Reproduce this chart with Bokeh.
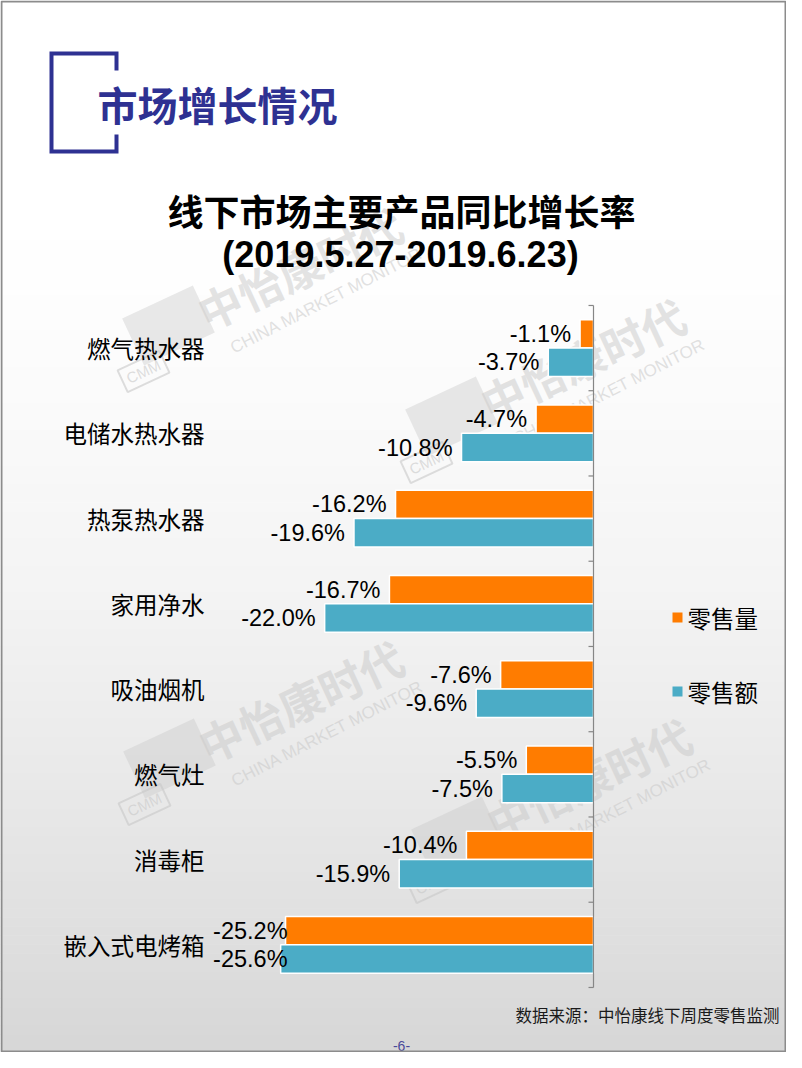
import numpy as np
from bokeh.plotting import figure
from bokeh.models import ColumnDataSource, Range1d
from bokeh.transform import dodge
from bokeh.core.properties import value
from bokeh.embed import file_html
from bokeh.resources import INLINE

# ---------------- data ----------------
categories = ["燃气热水器", "电储水热水器", "热泵热水器", "家用净水",
              "吸油烟机", "燃气灶", "消毒柜", "嵌入式电烤箱"]
retail_volume = [-1.1, -4.7, -16.2, -16.7, -7.6, -5.5, -10.4, -25.2]   # 零售量
retail_value = [-3.7, -10.8, -19.6, -22.0, -9.6, -7.5, -15.9, -25.6]   # 零售额
series_names = ["零售量", "零售额"]
series_colors = ["#FF7C00", "#4BACC6"]

page_title = "市场增长情况"
chart_title = "线下市场主要产品同比增长率"
chart_subtitle = "(2019.5.27-2019.6.23)"
source_note = "数据来源：中怡康线下周度零售监测"
page_number = "-6-"
watermark_cn = "中怡康时代"
watermark_en = "CHINA MARKET MONITOR"
watermark_logo = "CMM"

# ---------------- layout constants (page pixels) ----------------
W, H = 786, 1052
X0, Y0 = 0, 0
ZERO_X = 593.0                # x pixel of the value axis
PX_PER_UNIT = 12.22           # pixels per percentage point
TOP_CAT = 347.6               # y pixel of first category centre
CAT_STEP = 85.25              # pixels per category
BAR_H = 0.334                 # bar thickness in category units
CJK = "Noto Sans CJK SC"
LATIN = "Liberation Sans"
NAVY = "#2E3192"

x_start = (X0 - ZERO_X) / PX_PER_UNIT
x_end = (X0 + W - ZERO_X) / PX_PER_UNIT
y_bottom = (Y0 + H - TOP_CAT) / CAT_STEP
y_top = (Y0 - TOP_CAT) / CAT_STEP

p = figure(width=W, height=H, output_backend="svg", toolbar_location=None,
           x_range=Range1d(x_start, x_end), y_range=Range1d(y_bottom, y_top),
           x_axis_type=None, y_axis_type=None, min_border=0)
p.extra_x_ranges = {"page": Range1d(X0, X0 + W)}
p.extra_y_ranges = {"page": Range1d(Y0 + H, Y0)}
p.background_fill_color = "white"
p.border_fill_color = "white"
p.outline_line_color = None

PG = dict(x_range_name="page", y_range_name="page")

# ---------------- background gradient ----------------
edges = np.linspace(240, Y0 + H, 91)
stop_y = [0, 280, 450, 600, 800, 950, 1068]
stop_g = [255, 254, 249, 243, 232, 222, 213]
mids = (edges[:-1] + edges[1:]) / 2
grays = np.interp(mids, stop_y, stop_g).round().astype(int)
cols = ["#%02x%02x%02x" % (g, g, g) for g in grays]
p.quad(left=X0, right=X0 + W, top=edges[:-1], bottom=edges[1:] + 0.6,
       fill_color=cols, line_color=None, **PG)

# ---------------- watermarks ----------------
wm_cx = np.array([299, 582, 300, 588])
wm_cy = np.array([267, 358, 700, 778])
p.rect(x=wm_cx - 131, y=wm_cy + 58, width=78, height=52, angle=25, angle_units="deg",
       fill_color="#C8C8C8", fill_alpha=0.4, line_color=None, **PG)
p.rect(x=wm_cx - 156, y=wm_cy + 104, width=46, height=24, angle=25, angle_units="deg",
       fill_color=None, line_color="#C8C8C8", line_alpha=0.6, line_width=2, **PG)
p.text(x=wm_cx - 156, y=wm_cy + 104, text=[watermark_logo] * 4, angle=25,
       angle_units="deg", text_font=value(LATIN), text_font_size="15px",
       text_color="#C8C8C8", text_alpha=0.6, text_align="center",
       text_baseline="middle", **PG)
p.text(x=wm_cx, y=wm_cy, text=[watermark_cn] * 4, angle=25, angle_units="deg",
       text_font=value(CJK), text_font_style="bold", text_font_size="44px",
       text_color="#C8C8C8", text_alpha=0.5, text_align="center",
       text_baseline="middle", **PG)
p.text(x=wm_cx + 27, y=wm_cy + 33, text=[watermark_en] * 4, angle=27,
       angle_units="deg", text_font=value(LATIN), text_font_size="17px",
       text_color="#C8C8C8", text_alpha=0.55, text_align="center",
       text_baseline="middle", **PG)

# ---------------- header ----------------
p.line(x=[116, 116, 51, 51, 116, 116], y=[70, 53, 53, 151, 151, 134],
       line_color=NAVY, line_width=4, line_join="miter", **PG)
p.text(x=[97], y=[103], text=[page_title], text_font=value(CJK),
       text_font_style="bold", text_font_size="40px", text_color=NAVY,
       text_align="left", text_baseline="middle", **PG)
p.text(x=[401], y=[209], text=[chart_title], text_font=value(CJK),
       text_font_style="bold", text_font_size="36px", text_color="black",
       text_align="center", text_baseline="middle", **PG)
p.text(x=[400], y=[254], text=[chart_subtitle], text_font=value(LATIN),
       text_font_style="bold", text_font_size="36px", text_color="black",
       text_align="center", text_baseline="middle", **PG)

# ---------------- bars ----------------
n = len(categories)
LABEL_MIN = -24.3
src = ColumnDataSource(dict(
    idx=list(range(n)), cat=categories,
    vol=retail_volume, val=retail_value,
    vol_lx=[max(v, LABEL_MIN) for v in retail_volume],
    val_lx=[max(v, LABEL_MIN) for v in retail_value],
    vol_txt=["%.1f%%" % v for v in retail_volume],
    val_txt=["%.1f%%" % v for v in retail_value],
))

for col, lx, txt, off, color in [("vol", "vol_lx", "vol_txt", -BAR_H / 2, series_colors[0]),
                                 ("val", "val_lx", "val_txt", BAR_H / 2, series_colors[1])]:
    p.hbar(y=dodge("idx", off), left=0, right=col, height=BAR_H, source=src,
           fill_color=color, line_color="white", line_width=1.5)
    p.text(x=lx, y=dodge("idx", off), text=txt, source=src, x_offset=-9,
           text_font=value(LATIN), text_font_size="23.5px", text_color="black",
           text_align="right", text_baseline="middle")

# category labels
p.text(x=204, y="idx", text="cat", source=src, x_range_name="page",
       text_font=value(CJK), text_font_size="23.5px", text_color="black",
       text_align="right", text_baseline="middle")

# value axis line with category ticks
bounds = np.arange(n + 1) - 0.5
TICK = 5 / PX_PER_UNIT
p.segment(x0=0, x1=0, y0=bounds[0], y1=bounds[-1], line_color="#868686", line_width=1.2)
p.segment(x0=-TICK, x1=0, y0=bounds, y1=bounds, line_color="#868686", line_width=1.2)

# ---------------- legend ----------------
leg_y = [617, 691]
p.rect(x=677, y=leg_y, width=10, height=10, fill_color=series_colors,
       line_color=None, **PG)
p.text(x=687, y=leg_y, text=series_names, text_font=value(CJK),
       text_font_size="23.5px", text_color="black", text_align="left",
       text_baseline="middle", **PG)

# ---------------- footer ----------------
p.text(x=[779], y=[1014], text=[source_note], text_font=value(CJK),
       text_font_size="16.5px", text_color="#1A1A1A", text_align="right",
       text_baseline="middle", **PG)
p.text(x=[401], y=[1045], text=[page_number], text_font=value(LATIN),
       text_font_size="14px", text_color="#4A4A9A", text_align="center",
       text_baseline="middle", **PG)

# page border (drawn last so it stays on top)
p.quad(left=X0 + 1, right=X0 + W - 1, top=Y0 + 1, bottom=Y0 + H - 1,
       fill_color=None, line_color="#8C8C8C", line_width=2, **PG)

open("out.html", "w").write(file_html(p, INLINE))
